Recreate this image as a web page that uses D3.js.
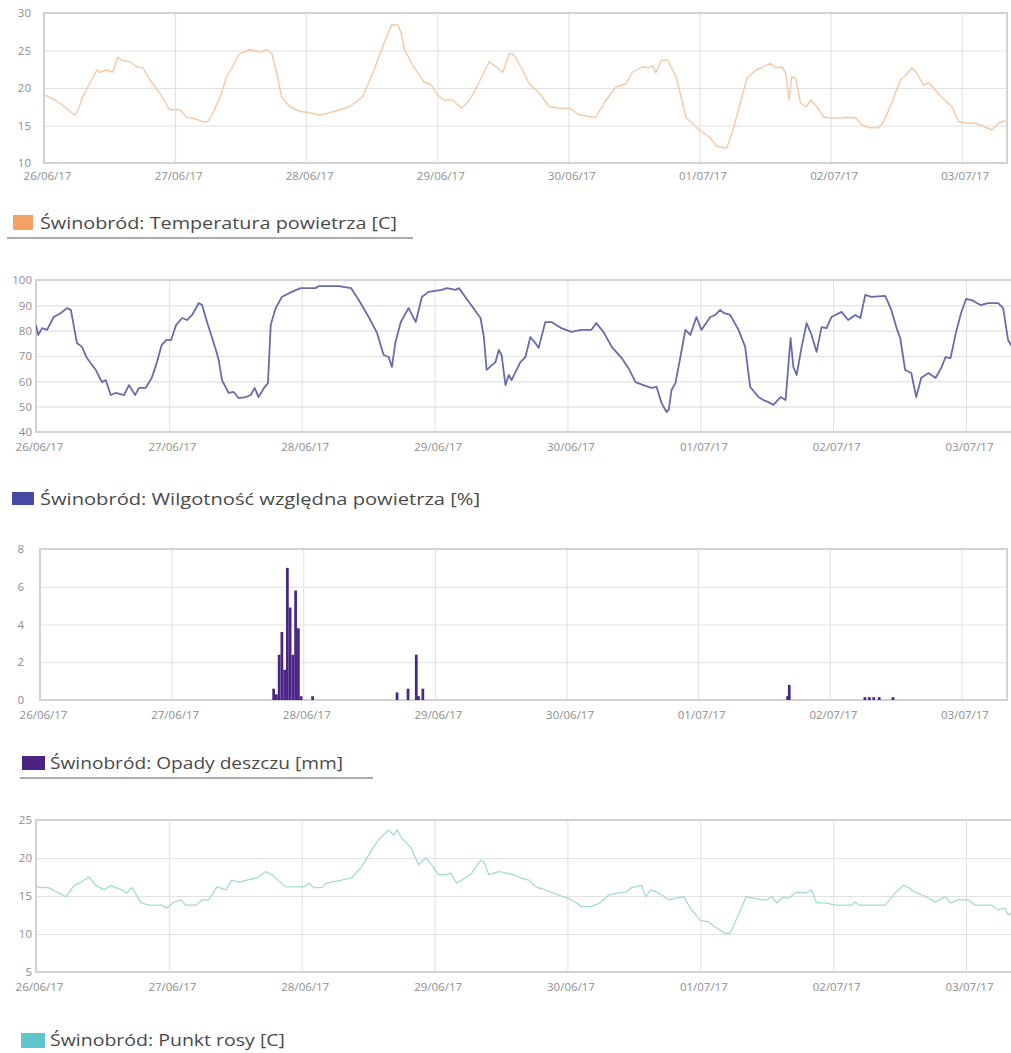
<!DOCTYPE html>
<html>
<head>
<meta charset="utf-8">
<script src="https://cdn.jsdelivr.net/npm/d3@7"></script>
<style>
  body { margin: 0; background: #fff; }
  svg { display: block; }
</style>
</head>
<body>
<svg id="chart" width="1011" height="1053"></svg>
<script>
// ---- data: [hours since 26/06/17 00:00, value] ----
const dayLabels = ["26/06/17", "27/06/17", "28/06/17", "29/06/17", "30/06/17", "01/07/17", "02/07/17", "03/07/17"];

const tempTicks = [10, 15, 20, 25, 30];
const humTicks = [40, 50, 60, 70, 80, 90, 100];
const rainTicks = [0, 2, 4, 6, 8];
const dewTicks = [5, 10, 15, 20, 25];

const temperature = [
  [0,19.1],[2,18.4],[3.8,17.5],[5.1,16.7],[5.7,16.4],[6.2,17],[7.1,18.8],[8,20.1],[9.7,22.4],[10.2,22.1],
  [11.5,22.4],[12.6,22.1],[13.5,24.1],[14.2,23.7],[15.7,23.5],[17,22.8],[18.1,22.7],[19.4,21.1],[21.2,19.3],
  [23,17.1],[24.9,17.1],[26.1,16.1],[27.2,16],[29.1,15.5],[30,15.5],[30.9,16.6],[32.5,19.3],[33.4,21.5],
  [34.5,22.8],[35.8,24.6],[37.7,25.1],[39.5,24.8],[40.8,25.1],[41.7,24.6],[42.6,22],[43.5,18.8],[45,17.5],
  [46.8,16.9],[48.6,16.7],[50.5,16.4],[52.3,16.7],[54.1,17.1],[55.9,17.5],[58.3,18.8],[60.2,22],[62,25.5],
  [63.6,28.4],[64.8,28.4],[65.4,27.3],[66,25.1],[67.3,23.3],[68.4,22],[69.6,20.8],[70.9,20.4],[72,19.1],
  [73.3,18.4],[74.8,18.4],[76.4,17.3],[77.9,18.4],[79.2,20.1],[80.3,21.7],[81.5,23.5],[82.8,22.8],[84,22.1],
  [85.2,24.6],[85.8,24.6],[86.4,24],[87.6,22.4],[88.8,20.6],[90.7,19.3],[92.5,17.5],[94.3,17.3],[96.2,17.3],
  [98,16.4],[101,16.1],[102.9,18.4],[104.7,20.1],[106.6,20.6],[107.7,22.1],[109.5,22.8],[110.8,22.7],
  [111.4,23],[112,22],[113,23.7],[114.2,23.7],[115.7,21.5],[116.8,18.4],[117.5,16.1],[118.7,15.3],
  [119.9,14.4],[121.8,13.5],[123.2,12.2],[125,12],[126.3,14.8],[127.6,18.4],[128.7,21.3],[130.3,22.4],
  [131.4,22.7],[133,23.3],[133.9,22.7],[135.1,22.8],[135.8,22],[136.4,18.4],[136.9,21.5],[137.6,21.3],
  [138.5,18],[139.5,17.5],[140.4,18.4],[141.5,17.5],[142.8,16.1],[144.2,16],[146.1,16],[147,16.1],[148.6,16],
  [149.7,15.1],[151,14.7],[152.8,14.7],[153.7,15.5],[155.2,18],[156.8,21.1],[157.8,21.7],[158.9,22.7],
  [159.8,22],[161,20.4],[162,20.7],[163.2,19.7],[164.4,18.7],[166.2,17.5],[167.5,15.5],[168.7,15.3],
  [170.5,15.3],[172.3,14.8],[173.5,14.4],[174.8,15.3],[176,15.7]
];

const humidity = [
  [0,82.2],[0.4,78.3],[1.1,81],[2,80.3],[3.2,85.4],[4.5,87],[5.6,88.9],[6.3,88.2],[7.4,75.1],[8.3,73.6],
  [9.2,69.2],[10.8,64.5],[11.9,59.7],[12.6,60.5],[13.5,54.6],[14.4,55.4],[15.9,54.6],[16.8,58.5],[17.9,54.6],
  [18.6,57.4],[19.8,57.4],[20.9,61.3],[21.8,67.2],[22.7,74.3],[23.5,76.3],[24.4,76.3],[25.3,82.2],[26.4,85],
  [27.3,84.2],[28.2,86.2],[29.4,90.9],[30,90.1],[30.9,83.4],[32.5,72.4],[33,68.4],[33.6,60.5],[34.8,55.4],
  [35.7,55.8],[36.6,53.4],[37.9,53.8],[38.8,54.6],[39.5,57.4],[40.2,53.8],[41.2,57.4],[41.9,59.3],[42.4,82.2],
  [43.3,88.9],[44.4,93.3],[46.2,95.3],[47.8,96.8],[50.5,96.8],[51.1,97.6],[54.7,97.6],[56.9,96.8],[58.3,92.1],
  [60.1,85.4],[61.6,79.1],[62.8,70.4],[63.7,69.6],[64.3,65.7],[64.9,75.1],[65.9,83.4],[67.3,88.9],[68.6,83.4],
  [69.7,93.3],[70.9,95.3],[73.3,96.1],[74.2,96.8],[75.8,96.1],[76.4,96.8],[78.2,91.3],[80.3,85],[80.9,77.5],
  [81.4,64.5],[83,67.6],[83.6,72.4],[84.1,70.4],[84.8,58.5],[85.4,62.5],[85.9,60.5],[87.5,67.6],[88.4,69.6],
  [89.3,77.5],[90.2,75.1],[90.8,73.2],[92,83.4],[93.1,83.4],[94.9,81],[96.7,79.5],[98.5,80.3],[100.3,80.3],
  [101.2,83],[102.5,79.5],[104,73.6],[105.8,69.2],[107,65.3],[108.3,59.7],[109.7,58.5],[111.2,57.4],
  [112.1,57.8],[113,51.4],[113.9,47.9],[114.3,48.7],[114.8,56.6],[115.5,59.3],[116.4,69.6],[117.3,80.3],
  [118.2,78.3],[119.3,85.4],[120.2,80.3],[121.8,85.4],[122.7,86.2],[123.6,88.2],[124.2,87],[125.4,86.2],
  [126.9,80.3],[128.1,73.6],[129,57.8],[130.5,53.8],[131.4,52.6],[132.3,51.8],[133.2,50.7],[134.5,53.8],
  [135.4,52.6],[136.3,77.1],[136.8,65.7],[137.4,62.5],[138.3,73.6],[139.2,83],[140.1,78.3],[141,71.6],
  [141.9,81.4],[142.8,81],[143.7,85.4],[145.5,87.4],[146.7,84.2],[148,86.2],[148.9,85],[149.8,94.1],
  [150.9,93.3],[153.4,93.7],[154.5,88.2],[155.4,81.4],[156.1,77.1],[157,64.5],[158.1,63.3],[159,53.8],
  [159.9,61.3],[161.2,63.3],[162.5,61.3],[163.6,65.7],[164.3,69.6],[165.2,69.2],[166.2,79.5],[167.1,87],
  [168,92.5],[169,92.1],[170.6,90.1],[172,90.9],[173.8,90.9],[174.7,88.9],[175.6,76.3],[176.2,74]
];

const rainfall = [
  [42.6,0.6],[43.1,0.3],[43.6,2.4],[44.1,3.6],[44.6,1.6],[45.1,7.0],[45.6,4.9],[46.1,2.4],[46.6,5.8],
  [47.1,3.8],[47.6,0.2],[49.7,0.2],
  [65.1,0.4],[67.1,0.6],[68.6,2.4],[69.0,0.2],[69.8,0.6],
  [136.3,0.2],[136.6,0.8],
  [150.4,0.15],[151.2,0.15],[152.0,0.15],[153.0,0.15],[155.5,0.15]
];

const dewPoint = [
  [0,16.4],[0.5,16.1],[2.3,16.1],[3.8,15.5],[5.4,14.9],[6.9,16.4],[8.1,16.8],[9.6,17.5],[10.8,16.4],
  [12.3,15.8],[13.5,16.4],[14.4,16.1],[15.5,15.8],[16.4,15.4],[17.3,16.1],[19,14.1],[20.4,13.8],[22.7,13.8],
  [23.6,13.4],[24.9,14.2],[26.2,14.5],[27,13.8],[29,13.8],[30,14.5],[31.2,14.5],[32.7,16.2],[34.3,15.8],
  [35.4,17.1],[36.6,16.8],[38.1,17.1],[39.9,17.4],[41.5,18.2],[42.6,17.8],[45.1,16.2],[48.4,16.2],
  [49.3,16.7],[50.2,16.1],[51.6,16.1],[52.5,16.7],[55.2,17.1],[57,17.4],[58.8,18.8],[60.6,21],[61.9,22.4],
  [63.7,23.7],[64.6,23],[65.2,23.7],[66.1,22.6],[67.7,21.4],[69.1,19.1],[70.4,20],[71.5,19.1],[72.7,17.8],
  [74,17.8],[74.9,18],[76,16.7],[77.6,17.4],[78.7,18],[80.3,19.7],[80.9,19.5],[81.8,17.8],[83.6,18.2],
  [85,18],[86.3,17.8],[87.5,17.4],[89,17.1],[90.3,16.2],[92,15.8],[94.4,15.1],[96.2,14.7],[97.4,14.2],
  [98.5,13.6],[100.3,13.6],[101.9,14.1],[103.4,15.1],[105.2,15.4],[106.5,15.5],[107.6,16.1],[109.4,16.4],
  [110.1,14.9],[111,15.8],[112.5,15.4],[114.3,14.5],[115.5,14.7],[117,14.9],[118.2,13.4],[120,11.8],
  [121.5,11.6],[122.7,10.9],[124.5,10.1],[125.4,10.1],[128.3,14.9],[129.9,14.7],[130.9,14.5],[132,14.5],
  [132.9,14.9],[133.8,14.1],[135,14.9],[135.9,14.7],[137.4,15.5],[139,15.4],[140.1,15.8],[141,14.1],
  [142.6,14.1],[144.4,13.8],[147.3,13.8],[148,14.2],[148.6,13.8],[153.4,13.8],[155.2,15.4],[156.7,16.4],
  [157.6,16.1],[158.8,15.5],[160.2,15.1],[161.2,14.7],[162.5,14.2],[163.6,14.7],[164.3,14.9],[165.2,14.1],
  [166.6,14.5],[168.4,14.5],[169.6,13.8],[172.5,13.8],[173.8,13.2],[175.1,13.4],[175.6,12.5],[176.2,12.8]
];

const legendTexts = [
  "Świnobród: Temperatura powietrza [C]",
  "Świnobród: Wilgotność względna powietrza [%]",
  "Świnobród: Opady deszczu [mm]",
  "Świnobród: Punkt rosy [C]"
];

// ---- layout and drawing ----
const start = new Date(2017, 5, 26, 0, 0);
const at = h => new Date(start.getTime() + h * 3600 * 1000);
const dayDates = dayLabels.map((_, i) => at(i * 24));
const endHour = 176.3;

const panels = [
  { data: temperature, kind: "line", ticks: tempTicks, color: "#f5c9a6", lw: 1.4,
    left: 44, right: 1007, top: 13, bottom: 163, yLabelX: 31, xLabelY: 176,
    legend: { x: 13, y: 215, w: 20, h: 15, color: "#f5a163", tx: 40, ty: 229, tw: 357, underline: [7, 413, 238] } },
  { data: humidity, kind: "line", ticks: humTicks, color: "#6a6ca9", lw: 1.8,
    left: 36, right: 1012, top: 280, bottom: 432, yLabelX: 32, xLabelY: 447,
    legend: { x: 12, y: 492, w: 22, h: 13, color: "#4649a4", tx: 40, ty: 505, tw: 440 } },
  { data: rainfall, kind: "bar", ticks: rainTicks, color: "#4b2587", lw: 0,
    left: 40, right: 1007, top: 549, bottom: 700, yLabelX: 24, xLabelY: 715,
    legend: { x: 22, y: 756, w: 23, h: 14, color: "#4a2383", tx: 50, ty: 769, tw: 293, underline: [20, 373, 778] } },
  { data: dewPoint, kind: "line", ticks: dewTicks, color: "#a3dad8", lw: 1.3,
    left: 36, right: 1012, top: 820, bottom: 972, yLabelX: 32, xLabelY: 987,
    legend: { x: 21, y: 1033, w: 24, h: 15, color: "#5ec6cc", tx: 50, ty: 1046, tw: 235 } }
];

const svg = d3.select("#chart");
const tickFont = "Open Sans, DejaVu Sans, sans-serif";
const tickSize = 11.5;

panels.forEach((p, idx) => {
  const x = d3.scaleTime().domain([start, at(endHour)]).range([p.left, p.right]);
  const y = d3.scaleLinear().domain(d3.extent(p.ticks)).range([p.bottom, p.top]);
  const g = svg.append("g");

  // horizontal grid
  g.append("g")
    .attr("transform", `translate(${p.left},0)`)
    .call(d3.axisLeft(y).tickValues(p.ticks).tickSize(-(p.right - p.left)).tickFormat(""))
    .call(s => s.select(".domain").remove())
    .call(s => s.selectAll("line").attr("stroke", "#e2e2e2").attr("stroke-width", 1.2));

  // vertical grid (one per day)
  g.append("g")
    .attr("transform", `translate(0,${p.bottom})`)
    .call(d3.axisBottom(x).tickValues(dayDates).tickSize(-(p.bottom - p.top)).tickFormat(""))
    .call(s => s.select(".domain").remove())
    .call(s => s.selectAll("line").attr("stroke", "#e0e0e0").attr("stroke-width", 1));

  // plot frame
  g.append("rect")
    .attr("x", p.left).attr("y", p.top)
    .attr("width", p.right - p.left).attr("height", p.bottom - p.top)
    .attr("fill", "none").attr("stroke", "#d2d2d2").attr("stroke-width", 2);

  // y tick labels
  g.append("g")
    .attr("transform", `translate(${p.yLabelX},0)`)
    .call(d3.axisLeft(y).tickValues(p.ticks).tickSize(0).tickPadding(0))
    .call(s => s.select(".domain").remove())
    .call(s => s.selectAll("text").attr("fill", "#8e8e8e").attr("font-size", tickSize)
      .attr("font-family", tickFont));

  // x tick labels, centred on xLabelY
  g.append("g")
    .attr("transform", `translate(0,${p.xLabelY - 4.5})`)
    .call(d3.axisBottom(x).tickValues(dayDates).tickSize(0).tickPadding(0)
      .tickFormat((d, i) => dayLabels[i]))
    .call(s => s.select(".domain").remove())
    .call(s => s.selectAll("text").attr("fill", "#8e8e8e").attr("font-size", tickSize)
      .attr("font-family", tickFont).attr("dx", 3));

  // series
  const clipId = "clip" + idx;
  svg.append("clipPath").attr("id", clipId).append("rect")
    .attr("x", p.left).attr("y", p.top - 2).attr("width", p.right - p.left).attr("height", p.bottom - p.top + 2);

  if (p.kind === "line") {
    const line = d3.line().x(d => x(at(d[0]))).y(d => y(d[1]));
    g.append("path")
      .datum(p.data)
      .attr("clip-path", `url(#${clipId})`)
      .attr("d", line)
      .attr("fill", "none")
      .attr("stroke", p.color)
      .attr("stroke-width", p.lw)
      .attr("stroke-linejoin", "round");
  } else {
    const bw = x(at(0.5)) - x(at(0));
    g.selectAll("rect.bar")
      .data(p.data)
      .join("rect")
      .attr("class", "bar")
      .attr("x", d => x(at(d[0])) - bw / 2)
      .attr("width", bw)
      .attr("y", d => y(d[1]))
      .attr("height", d => y(0) - y(d[1]))
      .attr("fill", p.color);
  }

  // legend
  const L = p.legend;
  g.append("rect").attr("x", L.x).attr("y", L.y).attr("width", L.w).attr("height", L.h).attr("fill", L.color);
  g.append("text")
    .attr("x", L.tx).attr("y", L.ty)
    .attr("font-family", "Open Sans, Noto Sans, sans-serif")
    .attr("font-size", 16)
    .attr("fill", "#4a4a4a")
    .attr("textLength", L.tw)
    .attr("lengthAdjust", "spacingAndGlyphs")
    .text(legendTexts[idx]);
  if (L.underline) {
    g.append("line")
      .attr("x1", L.underline[0]).attr("x2", L.underline[1])
      .attr("y1", L.underline[2]).attr("y2", L.underline[2])
      .attr("stroke", "#5a5a5a").attr("stroke-width", 1.2);
  }
});
</script>
</body>
</html>
